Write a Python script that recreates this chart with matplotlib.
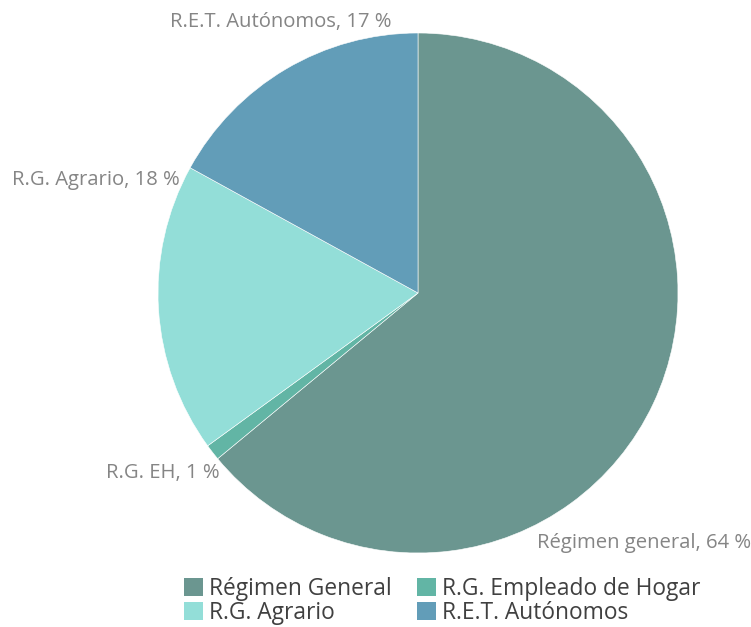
import matplotlib
matplotlib.use("Agg")
import matplotlib.pyplot as plt
from matplotlib.patches import Patch

# Data
categories = ["Régimen General", "R.G. Empleado de Hogar", "R.G. Agrario", "R.E.T. Autónomos"]
values = [64, 1, 18, 17]
label_texts = ["Régimen general, 64 %", "R.G. EH, 1 %", "R.G. Agrario, 18 %", "R.E.T. Autónomos, 17 %"]
colors = ["#6b9690", "#62b5a5", "#93ded8", "#629db8"]

plt.rcParams['font.family'] = ['Open Sans', 'DejaVu Sans']

fig = plt.figure(figsize=(7.51, 6.27), dpi=100)
W, H = 751, 627
# pie box in pixels: left 158, top 33, size 520
ax = fig.add_axes([158 / W, (H - 553) / H, 520 / W, 520 / H])
wedges, _ = ax.pie(values, colors=colors, startangle=90, counterclock=False,
                   radius=1, wedgeprops=dict(edgecolor='white', linewidth=0.4))
ax.set_xlim(-1, 1)
ax.set_ylim(-1, 1)
ax.set_aspect('equal')
ax.axis('off')

# label anchors (data coords) and alignment
label_pos = [(0.458, -0.962, 'left'), (-0.762, -0.692, 'right'),
             (-0.915, 0.435, 'right'), (-0.10, 1.042, 'right')]
for txt, (x, y, ha) in zip(label_texts, label_pos):
    ax.text(x, y, txt, ha=ha, va='center', fontsize=14.6, color='#858585', clip_on=False)

# legend, filled row by row like the original
handles = [Patch(facecolor=c, edgecolor='none') for c in colors]
order = [0, 2, 1, 3]
fig.legend([handles[i] for i in order], [categories[i] for i in order],
           ncol=2, loc='center', bbox_to_anchor=(442 / W, 1 - 601 / H),
           frameon=False, fontsize=16.4, handlelength=0.85, handleheight=0.85,
           handletextpad=0.25, columnspacing=1.1, labelspacing=0.0,
           labelcolor='#404040', borderpad=0)

fig.savefig("out.png", dpi=100)
